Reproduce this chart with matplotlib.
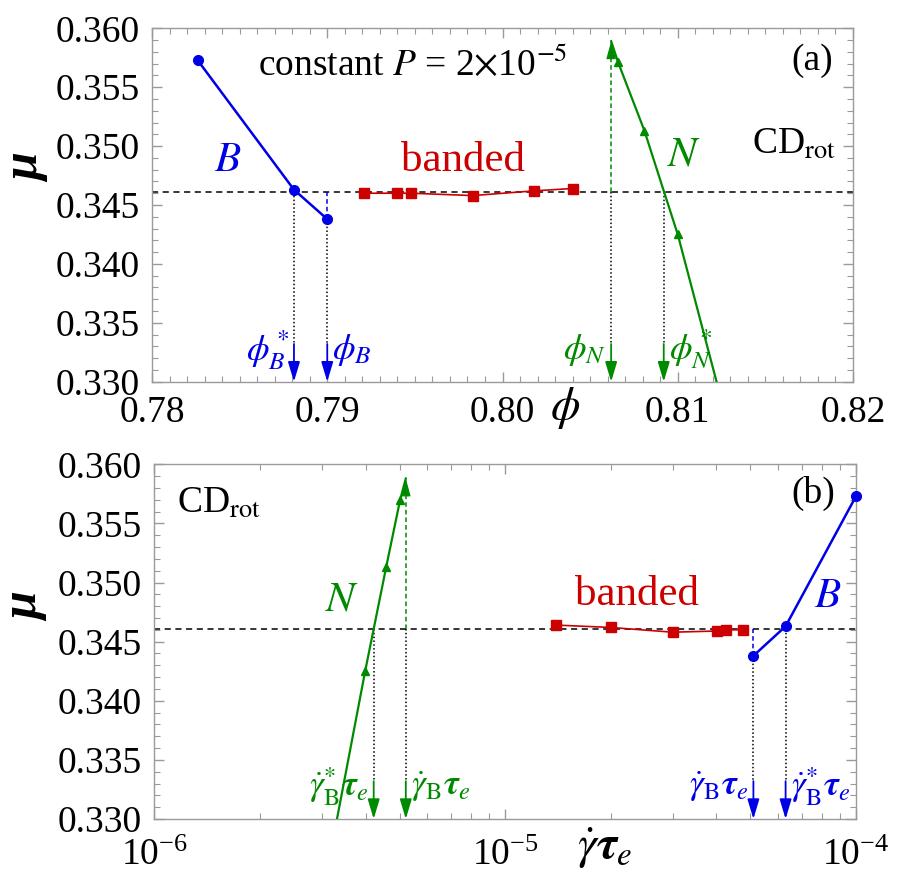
import numpy as np
import matplotlib.pyplot as plt
from matplotlib.ticker import MultipleLocator, LogLocator, NullFormatter

plt.rcParams['font.family'] = 'Liberation Serif'
plt.rcParams['mathtext.fontset'] = 'stix'

blue = '#0000e6'
red = '#cc0000'
green = '#008a00'
gray = '#9a9a9a'

mu_star = 0.3461

# panel (a): friction vs volume fraction
phi_B = [0.7826, 0.7881, 0.7900]
mu_B_a = [0.3573, 0.3463, 0.3438]
phi_band = [0.7921, 0.7940, 0.7948, 0.7983, 0.8018, 0.8040]
mu_band_a = [0.3460, 0.3460, 0.3460, 0.3458, 0.3462, 0.3464]
phi_N = [0.8062, 0.8066, 0.8081, 0.8100, 0.8131]
mu_N_a = [0.3589, 0.3571, 0.3513, 0.3425, 0.3250]

# panel (b): friction vs strain rate
rate_N = [5.21e-6, 5.02e-6, 4.58e-6, 3.99e-6, 3.08e-6]
mu_N_b = [0.3588, 0.3570, 0.3513, 0.3425, 0.3250]
rate_band = [1.40e-5, 2.00e-5, 3.00e-5, 4.01e-5, 4.26e-5, 4.75e-5]
mu_band_b = [0.3464, 0.3462, 0.3458, 0.3459, 0.3460, 0.3460]
rate_B = [5.10e-5, 6.30e-5, 1.0e-4]
mu_B_b = [0.3438, 0.3463, 0.3573]

# marked positions
phiB_star, phiB_end = 0.7881, 0.7900
phiN_end, phiN_star = 0.8062, 0.8092
rateN_star, rateN_end = 4.22e-6, 5.21e-6
rateB_end, rateB_star = 5.10e-5, 6.30e-5
arrow_top = 0.3332


def style(ax, xpad):
    for s in ax.spines.values():
        s.set_color(gray)
        s.set_linewidth(1.0)
    ax.tick_params(which='both', direction='in', top=True, right=True,
                   color=gray, labelsize=27, labelcolor='black')
    ax.tick_params(which='major', length=7, width=1)
    ax.tick_params(which='minor', length=4, width=0.8)
    ax.tick_params(axis='x', pad=xpad)
    ax.tick_params(axis='y', pad=9)


def down_arrow(ax, x, color):
    ax.annotate('', xy=(x, 0.330), xytext=(x, arrow_top), annotation_clip=False,
                arrowprops=dict(arrowstyle='-|>,head_length=0.6,head_width=0.18',
                                mutation_scale=20, color=color, lw=1.3,
                                shrinkA=0, shrinkB=0))


def up_arrow(ax, x, y, color):
    ax.plot([x, x], [mu_star, y - 0.0008], ls=(0, (3, 2)), color=color, lw=1.1, zorder=2)
    ax.annotate('', xy=(x, y), xytext=(x, y - 0.0010), annotation_clip=False,
                arrowprops=dict(arrowstyle='-|>,head_length=0.55,head_width=0.15',
                                mutation_scale=20, color=color, lw=0.8,
                                shrinkA=0, shrinkB=0), zorder=5)


def dotted(ax, x, y0):
    ax.plot([x, x], [y0, arrow_top], ls=(0, (1, 1.5)), color='k', lw=1.1, zorder=2)


def arrow_label(ax, x, s, color, side, size=26):
    dx = -5 if side == 'left' else 5
    ax.annotate(s, xy=(x, 0.3327), xytext=(dx, 0), textcoords='offset pixels',
                ha='right' if side == 'left' else 'left', va='center',
                color=color, fontsize=size, annotation_clip=False)


fig = plt.figure(figsize=(9, 8.8), dpi=100)
ax1 = fig.add_axes([152 / 900, 1 - 381.7 / 880, 701 / 900, 353.4 / 880])
ax2 = fig.add_axes([154.3 / 900, 1 - 819 / 880, 701.7 / 900, 354.7 / 880])

# ---- panel (a)
ax1.set_xlim(0.78, 0.82)
ax1.set_ylim(0.330, 0.360)
ax1.axhline(mu_star, color='k', ls=(0, (4, 3)), lw=1.1, zorder=1)

dotted(ax1, phiB_star, mu_star)
dotted(ax1, phiB_end, mu_B_a[2])
ax1.plot([phiB_end, phiB_end], [mu_B_a[2], mu_star], ls=(0, (3, 2)), color=blue, lw=1.1, zorder=2)
dotted(ax1, phiN_end, mu_star)
dotted(ax1, phiN_star, mu_star)
up_arrow(ax1, phiN_end, mu_N_a[0], green)

ax1.plot(phi_B, mu_B_a, '-o', color=blue, lw=1.8, ms=7, zorder=4)
ax1.plot(phi_band, mu_band_a, '-s', color=red, lw=1.2, ms=7, zorder=4)
ax1.plot(phi_N[1:], mu_N_a[1:], '^', color=green, ms=5.5, zorder=4)
ax1.plot(phi_N, mu_N_a, '-', color=green, lw=1.6, zorder=4)

for x, c in [(phiB_star, blue), (phiB_end, blue), (phiN_end, green), (phiN_star, green)]:
    down_arrow(ax1, x, c)
arrow_label(ax1, phiB_star, r'$\phi_B^*$', blue, 'left')
arrow_label(ax1, phiB_end, r'$\phi_B$', blue, 'right')
arrow_label(ax1, phiN_end, r'$\phi_N$', green, 'left')
arrow_label(ax1, phiN_star, r'$\phi_N^*$', green, 'right')

ax1.xaxis.set_major_locator(MultipleLocator(0.01))
ax1.xaxis.set_minor_locator(MultipleLocator(0.001))
ax1.yaxis.set_major_locator(MultipleLocator(0.005))
ax1.yaxis.set_minor_locator(MultipleLocator(0.001))
ax1.xaxis.set_major_formatter(lambda v, p: f'{v:.2f}')
ax1.yaxis.set_major_formatter(lambda v, p: f'{v:.3f}')
style(ax1, 10)

ax1.text(0.151, 0.865, r'constant $P$ = 2$\times$10$^{-5}$', transform=ax1.transAxes,
         fontsize=27, va='baseline', ha='left')
ax1.text(0.9715, 0.882, '(a)', transform=ax1.transAxes, fontsize=27, ha='right', va='baseline')
ax1.text(0.8555, 0.644, r'CD$_{\rm rot}$', transform=ax1.transAxes, fontsize=27, ha='left', va='baseline')
ax1.text(0.108, 0.597, r'$B$', transform=ax1.transAxes, fontsize=31, color=blue, ha='center', va='baseline')
ax1.text(0.444, 0.597, 'banded', transform=ax1.transAxes, fontsize=31, color=red, ha='center', va='baseline')
ax1.text(0.759, 0.613, r'$N$', transform=ax1.transAxes, fontsize=31, color=green, ha='center', va='baseline')
ax1.text(0.589, -0.075, r'$\phi$', transform=ax1.transAxes, fontsize=34, ha='center', va='center')
ax1.text(-0.178, 0.605, 'μ', transform=ax1.transAxes, fontsize=36, rotation=90,
         fontweight='bold', style='italic', ha='center', va='center')

# ---- panel (b)
ax2.set_xscale('log')
ax2.set_xlim(1e-6, 1e-4)
ax2.set_ylim(0.330, 0.360)
ax2.axhline(mu_star, color='k', ls=(0, (4, 3)), lw=1.1, zorder=1)

dotted(ax2, rateN_star, mu_star)
dotted(ax2, rateN_end, mu_star)
up_arrow(ax2, rateN_end, mu_N_b[0], green)
dotted(ax2, rateB_end, mu_B_b[0])
ax2.plot([rateB_end, rateB_end], [mu_B_b[0], mu_star], ls=(0, (3, 2)), color=blue, lw=1.1, zorder=2)
dotted(ax2, rateB_star, mu_star)

ax2.plot(rate_N[1:], mu_N_b[1:], '^', color=green, ms=5.5, zorder=4)
ax2.plot(rate_N, mu_N_b, '-', color=green, lw=1.6, zorder=4)
ax2.plot(rate_band, mu_band_b, '-s', color=red, lw=1.2, ms=7, zorder=4)
ax2.plot(rate_B, mu_B_b, '-o', color=blue, lw=1.8, ms=7, zorder=4, clip_on=False)

for x, c in [(rateN_star, green), (rateN_end, green), (rateB_end, blue), (rateB_star, blue)]:
    down_arrow(ax2, x, c)
g_star = r'$\dot{\gamma}_{\mathrm{B}}^{*}\boldsymbol{\tau}_e$'
g_plain = r'$\dot{\gamma}_{\mathrm{B}}\boldsymbol{\tau}_e$'
arrow_label(ax2, rateN_star, g_star, green, 'left', 25)
arrow_label(ax2, rateN_end, g_plain, green, 'right', 25)
arrow_label(ax2, rateB_end, g_plain, blue, 'left', 25)
arrow_label(ax2, rateB_star, g_star, blue, 'right', 25)

ax2.xaxis.set_major_locator(LogLocator(base=10, numticks=10))
ax2.xaxis.set_minor_locator(LogLocator(base=10, subs=np.arange(2, 10), numticks=20))
ax2.xaxis.set_minor_formatter(NullFormatter())
ax2.yaxis.set_major_locator(MultipleLocator(0.005))
ax2.yaxis.set_minor_locator(MultipleLocator(0.001))
ax2.yaxis.set_major_formatter(lambda v, p: f'{v:.3f}')
style(ax2, 14)

ax2.text(0.0319, 0.862, r'CD$_{\rm rot}$', transform=ax2.transAxes, fontsize=27, ha='left', va='baseline')
ax2.text(0.970, 0.890, '(b)', transform=ax2.transAxes, fontsize=27, ha='right', va='baseline')
ax2.text(0.268, 0.589, r'$N$', transform=ax2.transAxes, fontsize=31, color=green, ha='center', va='baseline')
ax2.text(0.6886, 0.603, 'banded', transform=ax2.transAxes, fontsize=31, color=red, ha='center', va='baseline')
ax2.text(0.9605, 0.5985, r'$B$', transform=ax2.transAxes, fontsize=31, color=blue, ha='center', va='baseline')
ax2.text(0.642, -0.082, r'$\dot{\gamma}\boldsymbol{\tau}_e$', transform=ax2.transAxes,
         fontsize=34, ha='center', va='center')
ax2.text(-0.183, 0.598, 'μ', transform=ax2.transAxes, fontsize=36, rotation=90,
         fontweight='bold', style='italic', ha='center', va='center')

fig.canvas.draw()
ax1.get_yticklabels()[-1].set_va('baseline')

fig.savefig('out.png', dpi=100)
